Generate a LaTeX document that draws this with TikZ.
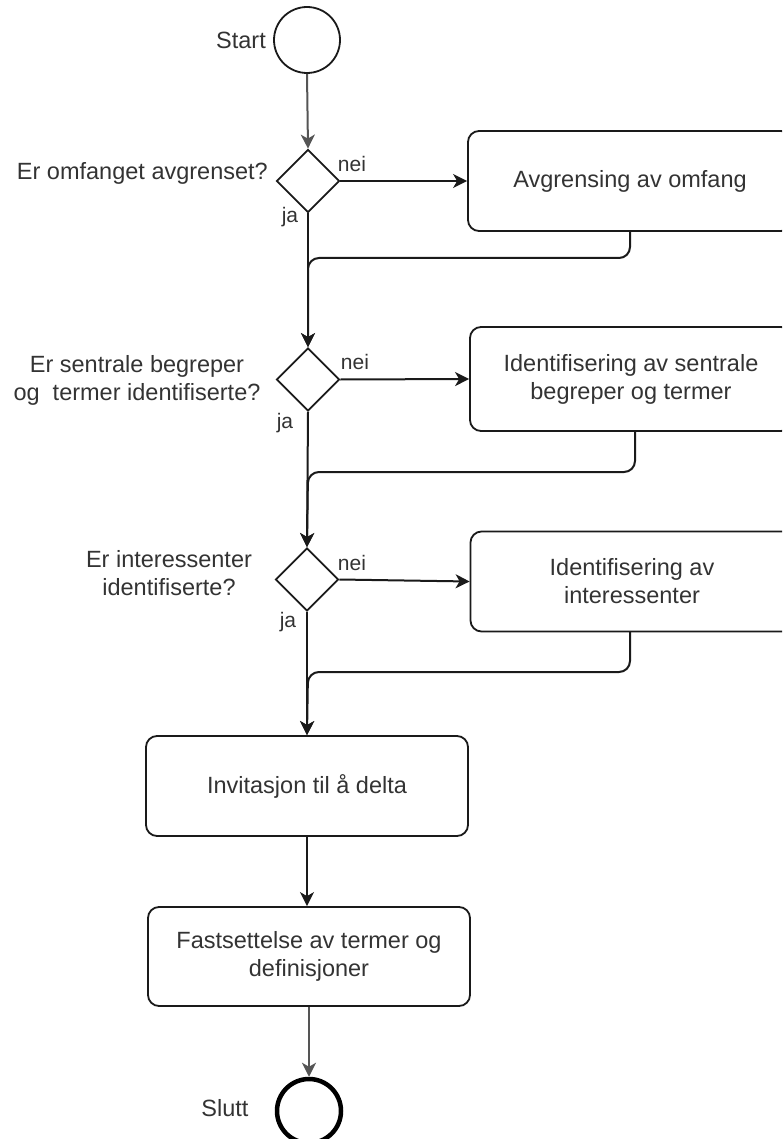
\documentclass[tikz,border=0pt]{standalone}
\usepackage{fontspec}
\setmainfont{Liberation Sans}
\usetikzlibrary{shapes.geometric,arrows.meta}
\definecolor{txt}{HTML}{333333}
\definecolor{ln}{HTML}{1A1A1A}
\definecolor{lngray}{HTML}{555555}
\begin{document}
\begin{tikzpicture}[x=1pt,y=-1pt,
  every node/.style={text=txt},
  mainfont/.style={font=\fontsize{23.5}{28}\selectfont},
  lblfont/.style={font=\fontsize{21}{25}\selectfont},
  actbox/.style={draw=ln, line width=1.8pt, rounded corners=11pt, minimum width=#1, align=center, mainfont, inner sep=0pt},
  decis/.style={draw=ln, line width=1.8pt, diamond, aspect=1, minimum width=63pt, minimum height=63pt, inner sep=0pt},
  conn/.style={draw=ln, line width=2pt, -{Stealth[length=14pt,width=14pt,inset=4pt]}},
  retconn/.style={conn, rounded corners=11pt},
  qtext/.style={mainfont, align=center, inner sep=0pt}
]
\useasboundingbox (0,0) rectangle (782,1139);
\clip (0,0) rectangle (782,1139);

% start / end
\node[draw=ln, line width=1.8pt, circle, minimum size=66pt, inner sep=0pt] (start) at (307,40) {};
\node[mainfont, inner sep=0pt] (startlbl) at (241,40) {Start};

% decisions
\node[decis] (d1) at (308,181) {};
\node[decis] (d2) at (308,379.5) {};
\node[decis] (d3) at (307,579.5) {};

% question texts
\node[qtext, anchor=east] (q1) at (268,173) {Er omfanget avgrenset?};
\node[qtext] (q2) at (137,380.5) {Er sentrale begreper\\og \ termer identifiserte?};
\node[qtext] (q3) at (169,573.5) {Er interessenter\\identifiserte?};

% nei / ja labels
\node[lblfont, inner sep=0pt] (n1) at (352,164) {nei};
\node[lblfont, inner sep=0pt] (j1) at (290,217) {ja};
\node[lblfont, inner sep=0pt] (n2) at (355,362) {nei};
\node[lblfont, inner sep=0pt] (j2) at (285,423) {ja};
\node[lblfont, inner sep=0pt] (n3) at (352,563) {nei};
\node[lblfont, inner sep=0pt] (j3) at (288,622) {ja};

% action boxes
\node[actbox=324pt, minimum height=100pt] (b1) at (630,181) {Avgrensing av omfang};
\node[actbox=322pt, minimum height=104pt] (b2) at (631,379) {Identifisering av sentrale\\begreper og termer};
\node[actbox=323pt, minimum height=100pt] (b3) at (632,581.5) {Identifisering av\\interessenter};
\node[actbox=322pt, minimum height=100pt] (b4) at (307,786) {Invitasjon til å delta};
\node[actbox=322pt, minimum height=99pt] (b5) at (309,956.5) {Fastsettelse av termer og\\definisjoner};

\node[draw=black, line width=4.5pt, circle, minimum size=64pt, inner sep=0pt] (stop) at (309,1111) {};
\node[mainfont, inner sep=0pt] (stoplbl) at (225,1108) {Slutt};

% coordinates for return paths
\coordinate (r1a) at (630,231);
\coordinate (r1b) at (630,258);
\coordinate (r1c) at (308,258);
\coordinate (r2a) at (635,431);
\coordinate (r2b) at (635,472);
\coordinate (r2c) at (308,472);
\coordinate (r3a) at (630,632);
\coordinate (r3b) at (630,672);
\coordinate (r3c) at (308,672);

% connectors
\draw[conn, draw=lngray] (start.south) -- (d1.north);
\draw[conn] (d1.east) -- (b1.west);
\draw[conn] (d1.south) -- (d2.north);
\draw[retconn] (r1a) -- (r1b) -- (r1c) -- (d2.north);
\draw[conn] (d2.east) -- (b2.west);
\draw[conn] (d2.south) -- (d3.north);
\draw[retconn] (r2a) -- (r2b) -- (r2c) -- (d3.north);
\draw[conn] (d3.east) -- (b3.west);
\draw[conn] (d3.south) -- (d3.south |- b4.north);
\draw[retconn] (r3a) -- (r3b) -- (r3c) -- (d3.south |- b4.north);
\draw[conn] (b4.south) -- (b4.south |- b5.north);
\draw[conn, draw=lngray] (b5.south) -- (stop.north);
\end{tikzpicture}
\end{document}
